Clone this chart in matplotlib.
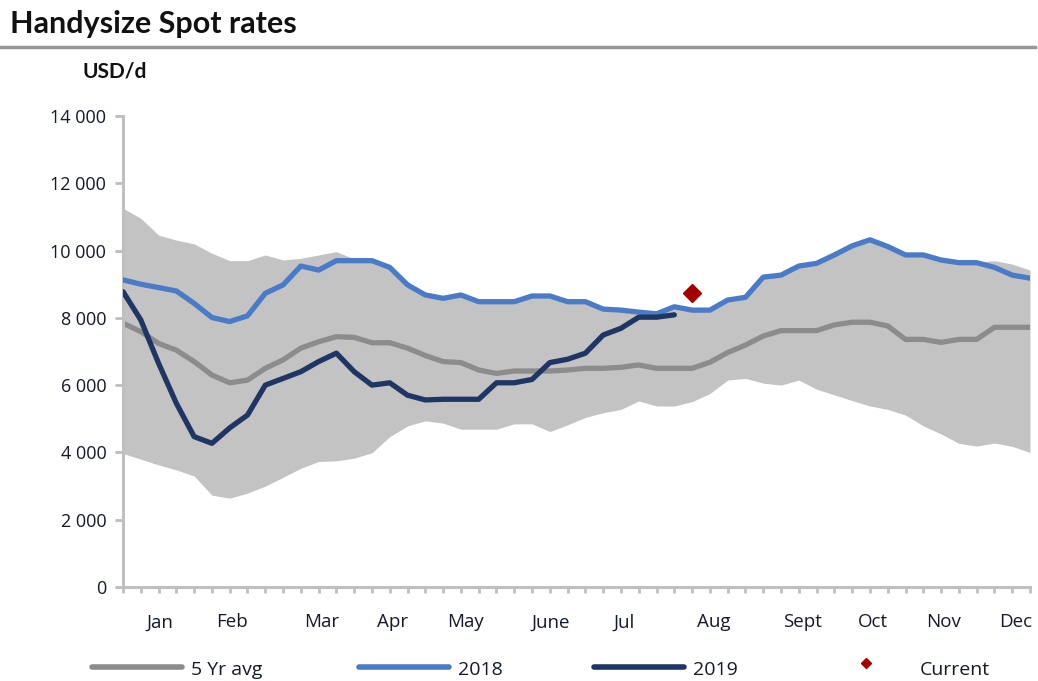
import numpy as np
import matplotlib.pyplot as plt
from matplotlib.lines import Line2D

plt.rcParams['font.family'] = ['Open Sans', 'DejaVu Sans']

# weekly values, USD/d (thousands)
weeks = np.arange(52)
avg5 = [7.84, 7.59, 7.24, 7.04, 6.70, 6.30, 6.07, 6.15, 6.50, 6.75, 7.10, 7.29, 7.44,
        7.42, 7.26, 7.26, 7.10, 6.88, 6.70, 6.67, 6.45, 6.35, 6.42, 6.42, 6.42, 6.45,
        6.50, 6.50, 6.53, 6.60, 6.50, 6.50, 6.50, 6.68, 6.97, 7.19, 7.46, 7.62, 7.62,
        7.62, 7.79, 7.87, 7.87, 7.76, 7.36, 7.36, 7.27, 7.36, 7.36, 7.72, 7.72, 7.72]
y2018 = [9.13, 9.00, 8.90, 8.80, 8.43, 8.01, 7.89, 8.06, 8.73, 8.98, 9.54, 9.42, 9.70,
         9.70, 9.70, 9.50, 8.98, 8.68, 8.58, 8.68, 8.48, 8.48, 8.48, 8.65, 8.65, 8.48,
         8.48, 8.26, 8.23, 8.17, 8.12, 8.33, 8.23, 8.23, 8.53, 8.61, 9.21, 9.27, 9.54,
         9.62, 9.87, 10.14, 10.32, 10.12, 9.87, 9.87, 9.72, 9.64, 9.64, 9.50, 9.27, 9.18]
y2019 = [8.78, 7.94, 6.65, 5.46, 4.47, 4.27, 4.73, 5.11, 6.00, 6.20, 6.40, 6.70, 6.95,
         6.40, 6.00, 6.07, 5.70, 5.56, 5.58, 5.58, 5.58, 6.07, 6.07, 6.17, 6.67, 6.77,
         6.95, 7.49, 7.69, 8.02, 8.02, 8.09]
band_hi = [11.26, 10.96, 10.46, 10.31, 10.20, 9.92, 9.70, 9.70, 9.87, 9.72, 9.77, 9.87,
           9.97, 9.75, 9.70, 9.50, 8.98, 8.68, 8.58, 8.68, 8.48, 8.48, 8.48, 8.65, 8.65,
           8.48, 8.48, 8.26, 8.23, 8.17, 8.12, 8.33, 8.23, 8.23, 8.53, 8.61, 9.21, 9.27,
           9.54, 9.62, 9.87, 10.14, 10.32, 10.12, 9.87, 9.87, 9.72, 9.64, 9.66, 9.70,
           9.60, 9.42]
band_lo = [3.97, 3.80, 3.63, 3.48, 3.30, 2.73, 2.64, 2.79, 3.00, 3.26, 3.53, 3.73, 3.75,
           3.83, 3.99, 4.47, 4.79, 4.94, 4.87, 4.69, 4.69, 4.69, 4.85, 4.85, 4.62, 4.82,
           5.04, 5.18, 5.28, 5.53, 5.38, 5.38, 5.51, 5.75, 6.15, 6.20, 6.06, 6.00, 6.15,
           5.88, 5.71, 5.54, 5.38, 5.28, 5.11, 4.79, 4.55, 4.27, 4.19, 4.28, 4.18, 4.00]
current_week = 32
current_val = 8.75

months = ['Jan', 'Feb', 'Mar', 'Apr', 'May', 'June', 'Jul', 'Aug', 'Sept', 'Oct', 'Nov', 'Dec']
month_pos = [2.08, 6.13, 11.19, 15.13, 19.24, 24.07, 28.18, 33.24, 38.19, 42.18, 46.12, 50.17]

c_avg = '#8c8c8c'
c_18 = '#4a7bc8'
c_19 = '#1f3564'
c_cur = '#a50000'
c_band = '#c3c3c3'
c_axis = '#bfbfbf'
c_txt = '#141a2c'

fig = plt.figure(figsize=(10.38, 6.81), dpi=100)
ax = fig.add_axes([123/1038, 1 - 587/681, (1030 - 123)/1038, (587 - 116)/681])

k = 1000
ax.fill_between(weeks, np.array(band_lo)*k, np.array(band_hi)*k, color=c_band, lw=0, zorder=1)
ax.plot(weeks, np.array(avg5)*k, color=c_avg, lw=3.8, zorder=2, solid_capstyle='round')
ax.plot(weeks, np.array(y2018)*k, color=c_18, lw=3.8, zorder=3, solid_capstyle='round')
ax.plot(weeks[:len(y2019)], np.array(y2019)*k, color=c_19, lw=3.8, zorder=4, solid_capstyle='round')
ax.plot([current_week], [current_val*k], marker='D', color=c_cur, ms=9, ls='none', zorder=5)

ax.set_xlim(0, 51)
ax.set_ylim(0, 14000)
ax.set_yticks(range(0, 14001, 2000))
ax.set_yticklabels([f'{v:,}'.replace(',', ' ') for v in range(0, 14001, 2000)],
                   fontsize=13, color=c_txt)
ax.set_xticks(month_pos)
ax.set_xticklabels(months, fontsize=13.5, color=c_txt)
ax.set_xticks(weeks, minor=True)
ax.tick_params(axis='x', which='major', length=0, pad=19)
ax.tick_params(axis='x', which='minor', length=4, width=2, color=c_axis, direction='out')
ax.tick_params(axis='y', length=6, width=2, color=c_axis, pad=6)

for s in ['top', 'right']:
    ax.spines[s].set_visible(False)
for s in ['left', 'bottom']:
    ax.spines[s].set_color(c_axis)
    ax.spines[s].set_linewidth(2.2)

# title and header rule
fig.text(10/1038, 1 - 24/681, 'Handysize Spot rates', fontsize=22, fontweight='bold',
         va='center', ha='left', color='#111111', family=['Lato', 'DejaVu Sans'])
fig.add_artist(Line2D([0, 1035/1038], [1 - 47/681, 1 - 47/681], color='#969696', lw=2.5))
fig.text(82/1038, 1 - 72/681, 'USD/d', fontsize=15, fontweight='bold', va='center', ha='left',
         color='#111111', family=['Lato', 'DejaVu Sans'])

# legend
ly = 1 - 667/681
ty = 1 - 670/681
entries = [(92, 182, c_avg, '5 Yr avg'), (359, 449, c_18, '2018'), (594, 684, c_19, '2019')]
for x0, x1, col, lab in entries:
    fig.add_artist(Line2D([x0/1038, x1/1038], [ly, ly], color=col, lw=4, solid_capstyle='round'))
    fig.text((x1 + 9)/1038, ty, lab, fontsize=14, va='center', ha='left', color=c_txt)
fig.add_artist(Line2D([866/1038], [1 - 663/681], marker='D', color=c_cur, ms=5, ls='none'))
fig.text(920/1038, ty, 'Current', fontsize=14, va='center', ha='left', color=c_txt)

fig.savefig('out.png', dpi=100)
